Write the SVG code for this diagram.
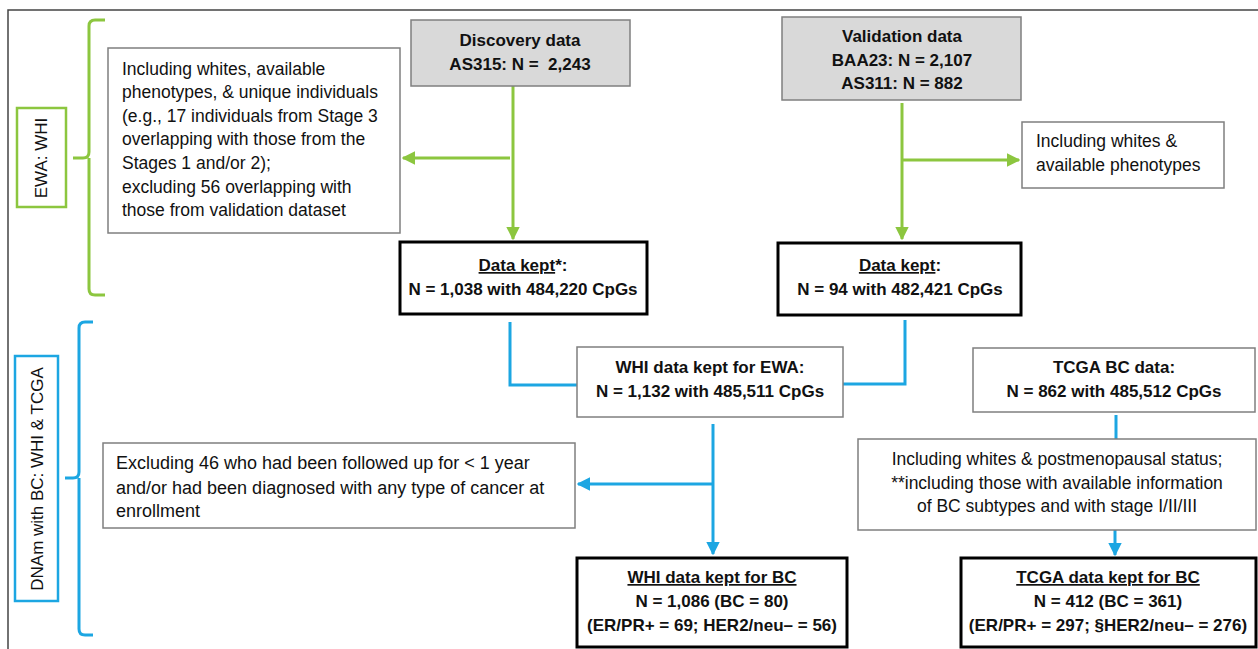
<svg xmlns="http://www.w3.org/2000/svg" width="1258" height="649" viewBox="0 0 1258 649">
<style>
text{font-family:"Liberation Sans",Arial,sans-serif;font-size:17.5px;fill:#111}
.b{font-weight:bold;font-size:17px}
.c{text-anchor:middle}
.thin{fill:#fff;stroke:#7f7f7f;stroke-width:1.5}
.gray{fill:#d9d9d9;stroke:#7f7f7f;stroke-width:1.5}
.thick{fill:#fff;stroke:#000;stroke-width:3}
.g{fill:none;stroke:#8cc63f;stroke-width:3}
.bl{fill:none;stroke:#1ca6e2;stroke-width:3}
.u{text-decoration:underline}
</style>
<defs>
<marker id="ag" viewBox="0 0 10 10" refX="9" refY="5" markerWidth="4.5" markerHeight="4.5" orient="auto" markerUnits="strokeWidth"><path d="M0,0L10,5L0,10z" fill="#8cc63f"/></marker>
<marker id="ab" viewBox="0 0 10 10" refX="9" refY="5" markerWidth="4.5" markerHeight="4.5" orient="auto" markerUnits="strokeWidth"><path d="M0,0L10,5L0,10z" fill="#1ca6e2"/></marker>
</defs>
<rect width="1258" height="649" fill="#fff"/>
<path d="M8,649V10H1258" fill="none" stroke="#444" stroke-width="1.5"/>

<g id="ewa-label">
<rect x="17" y="108" width="49" height="99" fill="#fff" stroke="#8cc63f" stroke-width="2.5"/>
<text transform="translate(47,158) rotate(-90)" class="c" style="font-size:17px">EWA: WHI</text>
<path d="M105,20H95Q89,20 89,26V152Q89,158 83,158H73M89,158Q89,164 89,170V289Q89,295 95,295H105" class="g" stroke-width="2.5"/>
</g>

<g id="dnam-label">
<rect x="15" y="356" width="43" height="245" fill="#fff" stroke="#1ca6e2" stroke-width="2.5"/>
<text transform="translate(43,479) rotate(-90)" class="c" style="font-size:17px">DNAm with BC: WHI &amp; TCGA</text>
<path d="M93,322H85Q79,322 79,328V472Q79,478 73,478H65M79,478Q79,484 79,490V629Q79,635 85,635H93" class="bl" stroke-width="2.5"/>
</g>

<g id="connectors">
<path d="M513,86V239" class="g" marker-end="url(#ag)"/>
<path d="M510,158H403" class="g" marker-end="url(#ag)"/>
<path d="M902,103V239" class="g" marker-end="url(#ag)"/>
<path d="M903,160H1019" class="g" marker-end="url(#ag)"/>
<path d="M510,322V385H577" class="bl"/>
<path d="M905,320V384H843" class="bl"/>
<path d="M713,424V554" class="bl" marker-end="url(#ab)"/>
<path d="M712,484H578" class="bl" marker-end="url(#ab)"/>
<path d="M1116,415V439" class="bl"/>
<path d="M1115,530V555" class="bl" marker-end="url(#ab)"/>
</g>

<g id="incl-disc">
<rect x="108" y="48" width="292" height="185" class="thin"/>
<text x="122" y="75">Including whites, available</text>
<text x="122" y="98">phenotypes, &amp; unique individuals</text>
<text x="122" y="122">(e.g., 17 individuals from Stage 3</text>
<text x="122" y="145">overlapping with those from the</text>
<text x="122" y="169">Stages 1 and/or 2);</text>
<text x="122" y="193">excluding 56 overlapping with</text>
<text x="122" y="216">those from validation dataset</text>
</g>

<g id="discovery">
<rect x="411" y="20" width="219" height="66" class="gray"/>
<text x="520" y="46" class="b c">Discovery data</text>
<text x="520" y="70" class="b c" xml:space="preserve">AS315: N =  2,243</text>
</g>

<g id="validation">
<rect x="782" y="17" width="239" height="83" class="gray"/>
<text x="902" y="42" class="b c">Validation data</text>
<text x="902" y="66" class="b c">BAA23: N = 2,107</text>
<text x="902" y="89" class="b c">AS311: N = 882</text>
</g>

<g id="incl-val">
<rect x="1022" y="122" width="202" height="66" class="thin"/>
<text x="1036" y="147">Including whites &amp;</text>
<text x="1036" y="171">available phenotypes</text>
</g>

<g id="kept-disc">
<rect x="400" y="242" width="247" height="72" class="thick"/>
<text x="523" y="271" class="b c"><tspan class="u">Data kept</tspan>*:</text>
<text x="523" y="295" class="b c">N = 1,038 with 484,220 CpGs</text>
</g>

<g id="kept-val">
<rect x="778" y="243" width="243" height="72" class="thick"/>
<text x="900" y="271" class="b c"><tspan class="u">Data kept</tspan>:</text>
<text x="900" y="295" class="b c">N = 94 with 482,421 CpGs</text>
</g>

<g id="whi-ewa">
<rect x="577" y="347" width="266" height="70" class="thin"/>
<text x="710" y="373" class="b c">WHI data kept for EWA:</text>
<text x="710" y="397" class="b c">N = 1,132 with 485,511 CpGs</text>
</g>

<g id="tcga-bc">
<rect x="973" y="348" width="282" height="64" class="thin"/>
<text x="1114" y="373" class="b c">TCGA BC data:</text>
<text x="1114" y="397" class="b c">N = 862 with 485,512 CpGs</text>
</g>

<g id="excl-whi">
<rect x="103" y="443" width="472" height="85" class="thin"/>
<text x="116" y="469" style="font-size:18px">Excluding 46 who had been followed up for &lt; 1 year</text>
<text x="116" y="494" style="font-size:18px">and/or had been diagnosed with any type of cancer at</text>
<text x="116" y="517" style="font-size:18px">enrollment</text>
</g>

<g id="incl-tcga">
<rect x="858" y="439" width="398" height="91" class="thin"/>
<text x="1057" y="465" class="c">Including whites &amp; postmenopausal status;</text>
<text x="1057" y="489" class="c">**including those with available information</text>
<text x="1057" y="512" class="c">of BC subtypes and with stage I/II/III</text>
</g>

<g id="whi-bc">
<rect x="577" y="558" width="270" height="89" class="thick"/>
<text x="712" y="583" class="b c u">WHI data kept for BC</text>
<text x="712" y="607" class="b c">N = 1,086 (BC = 80)</text>
<text x="712" y="631" class="b c">(ER/PR+ = 69; HER2/neu– = 56)</text>
</g>

<g id="tcga-kept">
<rect x="961" y="558" width="295" height="89" class="thick"/>
<text x="1108" y="583" class="b c u">TCGA data kept for BC</text>
<text x="1108" y="607" class="b c">N = 412 (BC = 361)</text>
<text x="1108" y="631" class="b c">(ER/PR+ = 297; §HER2/neu– = 276)</text>
</g>
</svg>
